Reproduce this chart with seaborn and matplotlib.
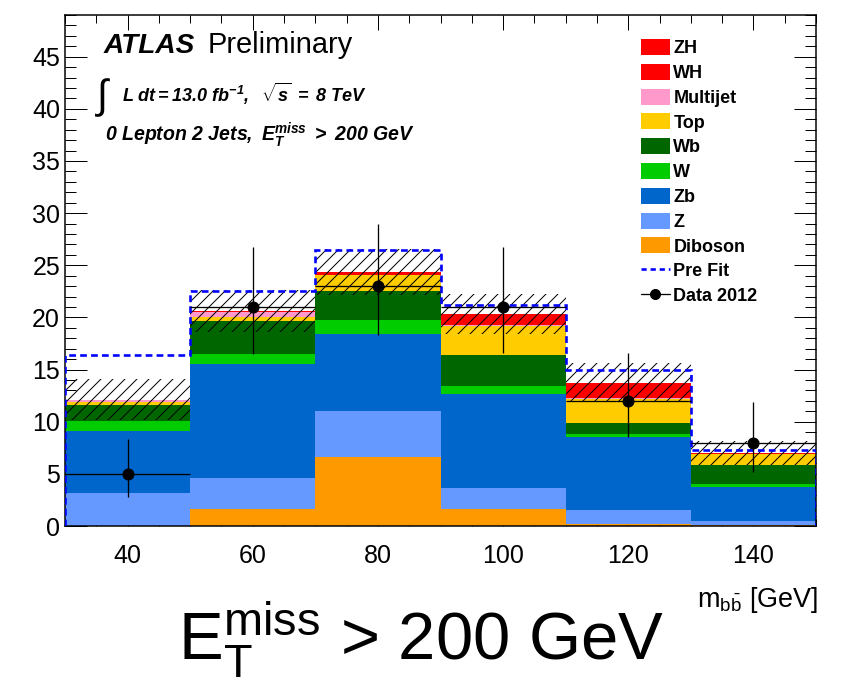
import numpy as np
import pandas as pd
import matplotlib
matplotlib.use("Agg")
import matplotlib.pyplot as plt
from matplotlib.patches import Patch
from matplotlib.lines import Line2D
from matplotlib.ticker import MultipleLocator
import seaborn as sns

# -----------------------------
# Data (events per 20 GeV bin)
# -----------------------------
edges = [30, 50, 70, 90, 110, 130, 150]
centers = [40, 60, 80, 100, 120, 140]

# processes, top of stack first
processes = ["ZH", "WH", "Multijet", "Top", "Wb", "W", "Zb", "Z", "Diboson"]
zh       = [0.03, 0.06, 0.17, 0.75, 1.05, 0.05]
wh       = [0.02, 0.04, 0.08, 0.30, 0.45, 0.03]
multijet = [0.15, 0.50, 0.05, 0.10, 0.10, 0.04]
top      = [0.25, 0.30, 1.50, 2.75, 2.30, 1.05]
wb       = [1.55, 3.25, 2.75, 2.95, 1.05, 1.85]
w        = [1.00, 0.95, 1.35, 0.80, 0.25, 0.23]
zb       = [5.95, 10.85, 7.40, 9.05, 7.05, 3.27]
z        = [3.15, 3.05, 4.40, 2.00, 1.30, 0.45]
diboson  = [0.00, 1.60, 6.65, 1.60, 0.20, 0.05]

syst_unc = [1.95, 2.00, 2.20, 1.90, 1.85, 1.15]
pre_fit  = [16.4, 22.5, 26.5, 21.15, 15.0, 7.28]

data      = [5, 21, 23, 21, 12, 8]
data_up   = [3.3, 5.8, 6.0, 5.8, 4.6, 3.9]
data_down = [2.2, 4.5, 4.7, 4.4, 3.45, 2.8]

colors = {
    "ZH": "#ff0000", "WH": "#ff0000", "Multijet": "#ff99cc",
    "Top": "#ffcc00", "Wb": "#006600", "W": "#00cc00",
    "Zb": "#0066cc", "Z": "#6699ff", "Diboson": "#ff9900",
}

values = {"ZH": zh, "WH": wh, "Multijet": multijet, "Top": top, "Wb": wb,
          "W": w, "Zb": zb, "Z": z, "Diboson": diboson}

rows = []
for p in processes:
    for c, v in zip(centers, values[p]):
        rows.append({"mbb": c, "events": v, "process": p})
df = pd.DataFrame(rows)
total = np.sum([values[p] for p in processes], axis=0)

# -----------------------------
# Style
# -----------------------------
sns.set_theme(style="ticks")
plt.rcParams["font.family"] = ["Liberation Sans", "DejaVu Sans"]
plt.rcParams["text.color"] = "black"
plt.rcParams["xtick.color"] = "black"
plt.rcParams["ytick.color"] = "black"
plt.rcParams["mathtext.fontset"] = "custom"
plt.rcParams["mathtext.rm"] = "Liberation Sans"
plt.rcParams["mathtext.it"] = "Liberation Sans:italic"
plt.rcParams["mathtext.bf"] = "Liberation Sans:bold"
plt.rcParams["mathtext.bfit"] = "Liberation Sans:italic:bold"
plt.rcParams["mathtext.sf"] = "Liberation Sans"
plt.rcParams["hatch.linewidth"] = 1.0

fig = plt.figure(figsize=(843 / 72, 685 / 72), dpi=72)
ax = fig.add_axes([65 / 843, 1 - 526 / 685, 751 / 843, 511 / 685])

sns.histplot(data=df, x="mbb", weights="events", hue="process",
             hue_order=processes, palette=colors, multiple="stack",
             bins=edges, element="bars", linewidth=0, alpha=1,
             legend=False, ax=ax)

# uncertainty band
ax.bar(centers, 2 * np.array(syst_unc), bottom=total - np.array(syst_unc),
       width=20, fill=False, hatch="//", linewidth=0, edgecolor="black",
       zorder=3)

# pre fit
ax.stairs(pre_fit, edges, color="#0000ff", linestyle=(0, (2.6, 1.6)),
          linewidth=2.6, zorder=4)

# data
ax.errorbar(centers, data, yerr=[data_down, data_up], xerr=10,
            fmt="o", color="black", markersize=11, elinewidth=1.3,
            capsize=0, zorder=5)

ax.set_xlim(30, 150)
ax.set_ylim(0, 49)
ax.set_xlabel("")
ax.set_ylabel("")
ax.xaxis.set_major_locator(MultipleLocator(20))
ax.xaxis.set_minor_locator(MultipleLocator(5))
ax.yaxis.set_major_locator(MultipleLocator(5))
ax.yaxis.set_minor_locator(MultipleLocator(1))
ax.tick_params(axis="both", which="both", direction="in", top=True,
               right=True, width=1, color="black", labelcolor="black",
               labelsize=25)
ax.tick_params(axis="x", which="major", length=15, pad=18)
ax.tick_params(axis="x", which="minor", length=7.5)
ax.tick_params(axis="y", which="major", length=22, pad=5)
ax.tick_params(axis="y", which="minor", length=11)
for s in ax.spines.values():
    s.set_linewidth(1.5)
    s.set_color("black")

# legend
handles = [Patch(facecolor=colors[p], edgecolor="none", label=p) for p in processes]
handles.append(Line2D([], [], color="#0000ff", linestyle=(0, (2, 1.5)),
                      linewidth=2.6, label="Pre Fit"))
handles.append(Line2D([], [], color="black", marker="o", markersize=10,
                      linewidth=1.3, label="Data 2012"))
labels = processes + ["Pre Fit", "Data 2012"]
fig.legend(handles, labels, loc="upper left",
           bbox_to_anchor=(641 / 843, 1 - 39 / 685), frameon=False,
           prop={"size": 18, "weight": "bold"}, handlelength=1.6,
           handleheight=1.0, handletextpad=0.2, labelspacing=0.365,
           borderpad=0, borderaxespad=0)

# labels
fig.text(104 / 843, 1 - 53 / 685, "ATLAS", fontsize=28, fontweight="bold",
         fontstyle="italic", va="baseline")
fig.text(208 / 843, 1 - 53 / 685, "Preliminary", fontsize=29, va="baseline")
fig.text(97 / 843, 1 - 108 / 685, "\u222b", fontsize=40, va="baseline")
fig.text(122 / 843, 1 - 102 / 685,
         r"$\mathbfit{L\ dt{=}13.0\ fb^{-1},\ \ \sqrt{s}\ =\ 8\ TeV}$",
         fontsize=18, va="baseline")
fig.text(105 / 843, 1 - 141 / 685,
         r"$\mathbfit{0\ Lepton\ 2\ Jets,\ E_{T}^{miss}\ >\ 200\ GeV}$",
         fontsize=19.5, va="baseline")
fig.text(818 / 843, 1 - 607 / 685, r"$\mathrm{m_{b\bar{b}}}$ [GeV]",
         fontsize=27, ha="right", va="baseline")
fig.text(178 / 843, 1 - 660 / 685, r"$\mathrm{E_{T}^{miss}}$ > 200 GeV",
         fontsize=67, ha="left", va="baseline")

fig.savefig("out.png", dpi=72)
